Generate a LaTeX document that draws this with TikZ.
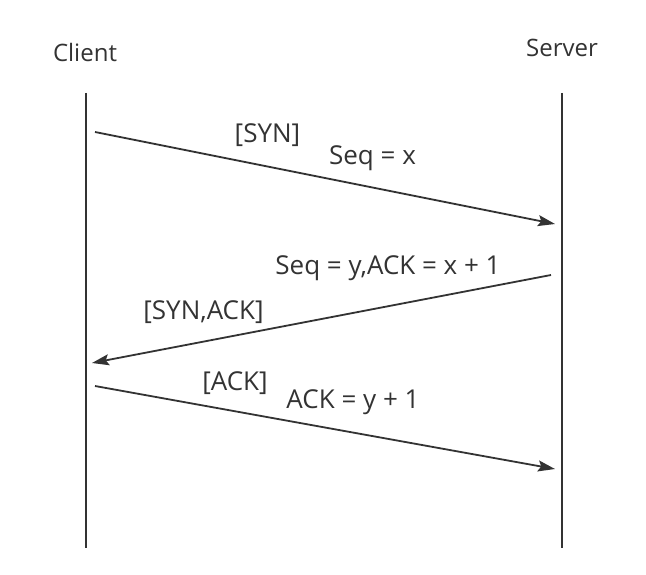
\documentclass[tikz,border=0pt]{standalone}
\usepackage{fontspec}
\setmainfont{Open Sans}
\usetikzlibrary{arrows.meta}
\definecolor{ink}{HTML}{333333}
\begin{document}
\begin{tikzpicture}[x=1pt,y=-1pt,
  lifeline/.style={draw=ink,line width=1.8pt},
  msg/.style={draw=ink,line width=1.8pt,-{Stealth[length=17pt,width=11pt,inset=3pt]}},
  lbl/.style={text=ink,font=\fontsize{26}{30}\selectfont,inner sep=0pt,anchor=base},
  head/.style={lbl,font=\fontsize{24}{28}\selectfont}]
\useasboundingbox (0,0) rectangle (646,575);
\node[head] (client) at (85,62) {Client};
\node[head] (server) at (562,57) {Server};
\coordinate (ct) at (86,93);
\coordinate (cb) at (86,548);
\coordinate (st) at (562,93);
\coordinate (sb) at (562,548);
\draw[lifeline] (ct) -- (cb);
\draw[lifeline] (st) -- (sb);
\coordinate (a1s) at (95,132);
\coordinate (a1e) at (555,224);
\coordinate (a2s) at (551,275);
\coordinate (a2e) at (92,363);
\coordinate (a3s) at (95,386);
\coordinate (a3e) at (555,469);
\draw[msg] (a1s) -- (a1e);
\draw[msg] (a2s) -- (a2e);
\draw[msg] (a3s) -- (a3e);
\node[lbl] (l1) at (267.5,143) {[SYN]};
\node[lbl] (l2) at (372.5,165) {Seq = x};
\node[lbl] (l3) at (388,275) {Seq = y,ACK = x + 1};
\node[lbl] (l4) at (203.5,319) {[SYN,ACK]};
\node[lbl] (l5) at (235,390) {[ACK]};
\node[lbl] (l6) at (353,408) {ACK = y + 1};
\end{tikzpicture}
\end{document}
